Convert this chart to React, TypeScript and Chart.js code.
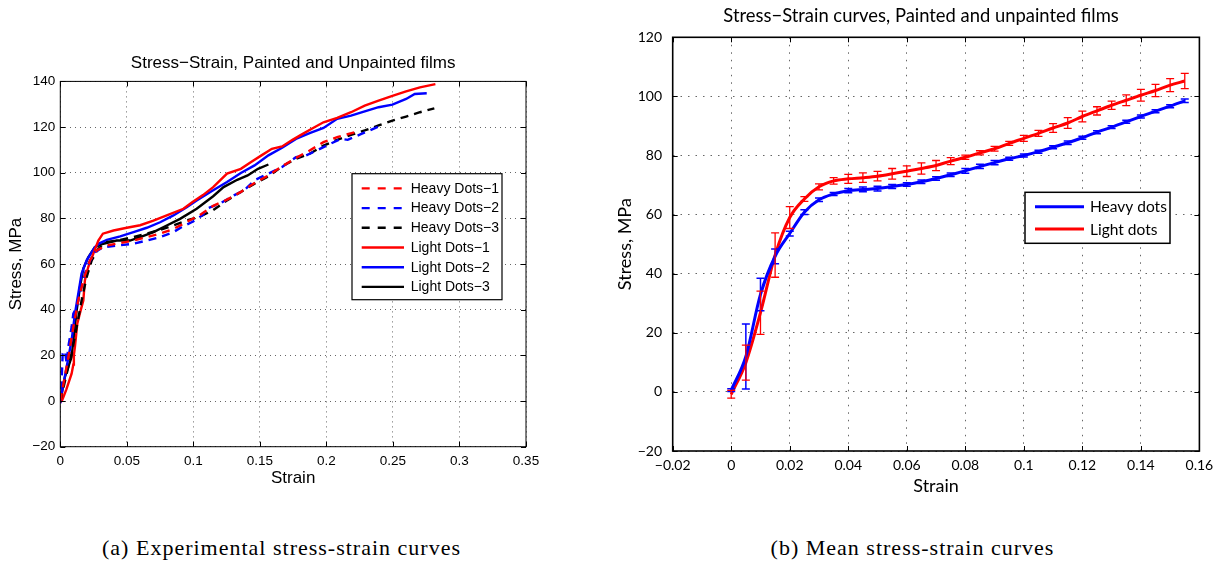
import React, { useEffect, useRef } from 'react';
import { Chart, registerables } from 'chart.js';

Chart.register(...registerables);

// ---------------- Panel (a): experimental curves ----------------
const titleA = 'Stress\u2212Strain, Painted and Unpainted films';
const xTitleA = 'Strain';
const yTitleA = 'Stress, MPa';

const strainHeavy1 = [0, 0.006, 0.0098, 0.0135, 0.0173, 0.0223, 0.0273, 0.0348, 0.0449, 0.055, 0.065, 0.075, 0.085, 0.095, 0.1046, 0.1149, 0.1253, 0.1357, 0.146, 0.1564, 0.1667, 0.1771, 0.1874, 0.1978, 0.2081, 0.221];
const stressHeavy1 = [0, 19, 32.4, 44, 52.9, 61.6, 66, 68.1, 69.2, 70.3, 71.8, 73.3, 75.4, 78.4, 81.4, 85.5, 88.2, 91.6, 95.5, 98.8, 102.8, 106.5, 109.7, 113.4, 115.6, 117.7];

const strainHeavy2 = [0, 0.001, 0.0018, 0.0035, 0.0048, 0.006, 0.0085, 0.0098, 0.0123, 0.016, 0.0198, 0.026, 0.0323, 0.0424, 0.055, 0.065, 0.075, 0.085, 0.0916, 0.0994, 0.1072, 0.11, 0.12, 0.1305, 0.1382, 0.146, 0.1564, 0.1667, 0.1771, 0.1848, 0.1926, 0.203, 0.2108, 0.216, 0.2263, 0.2392];
const stressHeavy2 = [-1, 9, 20.8, 22, 16.4, 23.7, 32.4, 38.3, 41.2, 50, 58.7, 65.2, 67.4, 68.1, 68.9, 70.3, 71.8, 74, 76.3, 78.5, 81.5, 84.3, 86.5, 90.1, 92.3, 96.7, 99.6, 102.5, 106.8, 107.6, 109.7, 112.7, 114.8, 114.4, 117, 120.2];

const strainHeavy3 = [0, 0.0048, 0.0085, 0.0123, 0.016, 0.0198, 0.0236, 0.0286, 0.0348, 0.0449, 0.055, 0.065, 0.075, 0.085, 0.095, 0.1046, 0.1149, 0.1253, 0.1357, 0.146, 0.1564, 0.1667, 0.1771, 0.1874, 0.1978, 0.2081, 0.2185, 0.2288, 0.2392, 0.2496, 0.2599, 0.2703, 0.2811];
const stressHeavy3 = [0, 12, 20.8, 32.4, 44, 54.3, 61.6, 66.7, 69.6, 70.6, 71.8, 73.3, 75, 76.9, 79.1, 80.7, 83.6, 87.9, 91.6, 95.2, 98.4, 102.8, 106.1, 108.3, 111.9, 114.4, 116.6, 118.5, 120.7, 122.8, 124.6, 126.5, 128.2];

const strainLight1 = [0.0002, 0.0015, 0.0045, 0.0085, 0.0098, 0.0102, 0.011, 0.0128, 0.0153, 0.0173, 0.0185, 0.021, 0.0248, 0.0286, 0.032, 0.04, 0.05, 0.06, 0.07, 0.08, 0.0925, 0.0994, 0.1072, 0.1149, 0.1253, 0.1357, 0.1434, 0.1512, 0.159, 0.1667, 0.1745, 0.1822, 0.19, 0.1978, 0.2081, 0.2185, 0.2288, 0.2392, 0.2496, 0.2599, 0.2703, 0.2819];
const stressLight1 = [-0.5, 0.5, 5, 12, 16, 20, 23.7, 34, 39.7, 44, 52.9, 58.7, 64.5, 70.3, 73.3, 74.7, 75.9, 77, 79, 81.3, 84.2, 87.2, 90.2, 93.7, 99.6, 101.7, 104.7, 107.6, 110.5, 111.5, 114.4, 117, 119.6, 122.1, 124, 126.5, 129.4, 131.6, 133.7, 135.6, 137.4, 138.8];

const strainLight2 = [0, 0.0048, 0.0085, 0.011, 0.0135, 0.016, 0.0198, 0.026, 0.0298, 0.035, 0.045, 0.055, 0.065, 0.075, 0.085, 0.095, 0.1025, 0.1149, 0.1253, 0.1357, 0.146, 0.1564, 0.1667, 0.1771, 0.1874, 0.1978, 0.2081, 0.2185, 0.2288, 0.2392, 0.2496, 0.2599, 0.2664, 0.2754];
const stressLight2 = [0, 15, 26.6, 38.3, 47, 55.8, 61.6, 67.4, 69.2, 70.6, 72.1, 74, 75.9, 78.3, 81.3, 84.9, 87.8, 92.3, 95.9, 99.9, 103.2, 107.6, 110.9, 114.8, 117.3, 119.6, 123.6, 125, 126.9, 128.7, 129.8, 132.3, 134.5, 134.8];

const strainLight3 = [0, 0.0035, 0.0085, 0.0123, 0.0148, 0.0173, 0.021, 0.026, 0.0323, 0.0424, 0.0524, 0.06, 0.07, 0.08, 0.09, 0.1025, 0.1149, 0.1227, 0.133, 0.1408, 0.1486, 0.1564];
const stressLight3 = [0, 10.6, 19.3, 39.7, 50, 58, 63, 67.4, 68.9, 70.3, 70.3, 71.8, 74, 76.9, 79.8, 84.2, 89.7, 93.7, 96.9, 98.8, 101.7, 103.6];

const seriesLabelsA = ['Heavy Dots\u22121', 'Heavy Dots\u22122', 'Heavy Dots\u22123', 'Light Dots\u22121', 'Light Dots\u22122', 'Light Dots\u22123'];

const xTicksA = [0, 0.05, 0.1, 0.15, 0.2, 0.25, 0.3, 0.35];
const xTickLabelsA = ['0', '0.05', '0.1', '0.15', '0.2', '0.25', '0.3', '0.35'];
const yTicksA = [-20, 0, 20, 40, 60, 80, 100, 120, 140];
const yTickLabelsA = ['\u221220', '0', '20', '40', '60', '80', '100', '120', '140'];

// ---------------- Panel (b): mean curves ----------------
const titleB = 'Stress\u2212Strain curves, Painted and unpainted films';
const xTitleB = 'Strain';
const yTitleB = 'Stress, MPa';

const strainMean = [0, 0.005, 0.01, 0.015, 0.02, 0.025, 0.03, 0.035, 0.04, 0.045, 0.05, 0.055, 0.06, 0.065, 0.07, 0.075, 0.08, 0.085, 0.09, 0.095, 0.1, 0.105, 0.11, 0.115, 0.12, 0.125, 0.13, 0.135, 0.14, 0.145, 0.15, 0.155];
const stressHeavyMean = [0.6, 12, 33, 45.9, 53.6, 60.8, 65, 67, 68.1, 68.5, 68.8, 69.5, 70.2, 71.1, 72.2, 73.5, 74.8, 76.3, 77.6, 78.9, 80, 81.3, 82.8, 84.3, 86, 87.9, 89.6, 91.4, 93.2, 95, 96.7, 98.5];
const errHeavyMean = [0.5, 11, 5.5, 2.5, 0.8, 0.8, 0.6, 0.5, 0.7, 0.8, 0.8, 0.7, 0.6, 0.6, 0.6, 0.6, 0.8, 0.7, 0.7, 0.5, 0.5, 0.5, 0.5, 0.6, 0.5, 0.5, 0.5, 0.5, 0.5, 0.5, 0.5, 0.6];
const stressLightMean = [-0.8, 9.9, 26.8, 46.3, 59.0, 65.3, 69.4, 71.4, 72.1, 72.5, 73.0, 73.8, 74.7, 75.6, 76.6, 78.1, 79.4, 80.9, 82.3, 84.1, 85.8, 87.5, 89.3, 91.0, 93.2, 95.1, 97.0, 98.7, 100.4, 102.0, 103.8, 105.2];
const errLightMean = [1.3, 5.9, 7.3, 7.5, 3.7, 0.8, 1.0, 1.1, 1.5, 1.6, 1.6, 1.8, 1.8, 1.9, 1.7, 1.2, 0.7, 0.7, 0.8, 0.7, 1.0, 1.0, 1.5, 1.8, 1.8, 1.4, 1.4, 1.8, 2.0, 2.1, 2.2, 2.6];
const seriesLabelsB = ['Heavy dots', 'Light dots'];

const xTicksB = [-0.02, 0, 0.02, 0.04, 0.06, 0.08, 0.1, 0.12, 0.14, 0.16];
const xTickLabelsB = ['\u22120.02', '0', '0.02', '0.04', '0.06', '0.08', '0.1', '0.12', '0.14', '0.16'];
const yTicksB = [-20, 0, 20, 40, 60, 80, 100, 120];
const yTickLabelsB = ['\u221220', '0', '20', '40', '60', '80', '100', '120'];

const captionA = '(a) Experimental stress-strain curves';
const captionB = '(b) Mean stress-strain curves';

// ---------------- styling ----------------
const SANS = '"Liberation Sans", Arial, Helvetica, sans-serif';
const HUM = 'Lato, "Open Sans", "Noto Sans", sans-serif';
const RED = '#ff0000';
const BLUE = '#0000ff';
const BLACK = '#000000';

function framePlugin(lineWidth: number, tickLen: number) {
  return {
    id: 'frame',
    afterDatasetsDraw(chart: any) {
      const { ctx, chartArea: a, scales } = chart;
      ctx.save();
      ctx.strokeStyle = '#000';
      ctx.lineWidth = lineWidth;
      ctx.setLineDash([]);
      ctx.strokeRect(a.left, a.top, a.right - a.left, a.bottom - a.top);
      ctx.lineWidth = 1;
      ctx.beginPath();
      scales.x.ticks.forEach((t: any) => {
        const px = Math.round(scales.x.getPixelForValue(t.value)) + 0.5;
        ctx.moveTo(px, a.bottom); ctx.lineTo(px, a.bottom - tickLen);
        ctx.moveTo(px, a.top); ctx.lineTo(px, a.top + tickLen);
      });
      scales.y.ticks.forEach((t: any) => {
        const py = Math.round(scales.y.getPixelForValue(t.value)) + 0.5;
        ctx.moveTo(a.left, py); ctx.lineTo(a.left + tickLen, py);
        ctx.moveTo(a.right, py); ctx.lineTo(a.right - tickLen, py);
      });
      ctx.stroke();
      ctx.restore();
    },
  };
}

function legendPlugin(L: any) {
  return {
    id: 'boxLegend',
    afterDraw(chart: any) {
      const { ctx, chartArea: a } = chart;
      const x0 = a.left + L.dx;
      const y0 = a.top + L.dy;
      ctx.save();
      ctx.fillStyle = '#fff';
      ctx.fillRect(x0, y0, L.w, L.h);
      ctx.strokeStyle = '#000';
      ctx.lineWidth = L.border;
      ctx.strokeRect(x0, y0, L.w, L.h);
      chart.data.datasets.forEach((ds: any, i: number) => {
        const y = y0 + L.firstRow + i * L.rowGap;
        ctx.beginPath();
        ctx.setLineDash(ds.borderDash && ds.borderDash.length ? L.dash : []);
        ctx.strokeStyle = ds.borderColor;
        ctx.lineWidth = L.lineWidth;
        ctx.moveTo(x0 + L.lineX1, y);
        ctx.lineTo(x0 + L.lineX2, y);
        ctx.stroke();
        ctx.setLineDash([]);
        ctx.fillStyle = '#000';
        ctx.font = L.font;
        ctx.textBaseline = 'middle';
        ctx.textAlign = 'left';
        ctx.fillText(ds.label, x0 + L.textX, y + 0.5);
      });
      ctx.restore();
    },
  };
}

// Title drawn above the plot, slightly off the plot's centre as in the source figure.
function shiftedTitlePlugin(text: string, font: string, dx: number, y: number) {
  return {
    id: 'shiftedTitle',
    afterDraw(chart: any) {
      const { ctx, chartArea: a } = chart;
      ctx.save();
      ctx.font = font;
      ctx.fillStyle = '#000';
      ctx.textAlign = 'center';
      ctx.textBaseline = 'middle';
      ctx.fillText(text, (a.left + a.right) / 2 + dx, y);
      ctx.restore();
    },
  };
}

function errorBarPlugin(sets: any[]) {
  return {
    id: 'errorBars',
    afterDatasetsDraw(chart: any) {
      const { ctx, scales } = chart;
      ctx.save();
      sets.forEach((s) => {
        ctx.strokeStyle = s.color;
        ctx.lineWidth = s.width;
        ctx.beginPath();
        s.x.forEach((xv: number, i: number) => {
          const px = scales.x.getPixelForValue(xv);
          const top = scales.y.getPixelForValue(s.y[i] + s.err[i]);
          const bot = scales.y.getPixelForValue(s.y[i] - s.err[i]);
          ctx.moveTo(px, top); ctx.lineTo(px, bot);
          ctx.moveTo(px - s.cap, top); ctx.lineTo(px + s.cap, top);
          ctx.moveTo(px - s.cap, bot); ctx.lineTo(px + s.cap, bot);
        });
        ctx.stroke();
      });
      ctx.restore();
    },
  };
}

function axisCfg(p: any) {
  return {
    type: 'linear',
    min: p.min,
    max: p.max,
    afterBuildTicks: (s: any) => { s.ticks = p.ticks.map((v: number) => ({ value: v })); },
    afterFit: (s: any) => { if (p.width !== undefined) s.width = p.width; if (p.height !== undefined) s.height = p.height; },
    ticks: {
      callback: (_v: any, i: number) => p.labels[i],
      color: '#000',
      font: { family: p.family, size: p.tickSize },
      padding: p.tickPad,
      maxRotation: 0,
      autoSkip: false,
    },
    grid: { color: p.gridColor, lineWidth: 1, drawTicks: false },
    border: { display: false, dash: p.dash },
    title: {
      display: true,
      text: p.title,
      color: '#000',
      font: { family: p.family, size: p.titleSize, lineHeight: 1.2 },
      padding: p.titlePad,
    },
  };
}

function configA(): any {
  const series = [
    { x: strainHeavy1, y: stressHeavy1, color: RED, dashed: true },
    { x: strainHeavy2, y: stressHeavy2, color: BLUE, dashed: true },
    { x: strainHeavy3, y: stressHeavy3, color: BLACK, dashed: true },
    { x: strainLight1, y: stressLight1, color: RED, dashed: false },
    { x: strainLight2, y: stressLight2, color: BLUE, dashed: false },
    { x: strainLight3, y: stressLight3, color: BLACK, dashed: false },
  ];
  return {
    type: 'line',
    data: {
      datasets: series.map((s, k) => ({
        label: seriesLabelsA[k],
        data: s.x.map((x, i) => ({ x, y: s.y[i] })),
        borderColor: s.color,
        backgroundColor: s.color,
        borderWidth: 2.4,
        borderDash: s.dashed ? [8, 6] : [],
        pointRadius: 0,
        tension: 0,
        fill: false,
      })),
    },
    options: {
      responsive: false,
      animation: false,
      events: [],
      layout: { padding: { left: 0, right: 74, top: 0, bottom: 3.3 } },
      plugins: {
        legend: { display: false },
        tooltip: { enabled: false },
        title: {
          display: true, text: titleA, color: '#000', fullSize: false,
          font: { family: SANS, size: 17, weight: 'normal', lineHeight: 1.2 },
          padding: { top: 53, bottom: 8 },
        },
      },
      scales: {
        x: axisCfg({ min: 0, max: 0.35, ticks: xTicksA, labels: xTickLabelsA, height: 50, family: SANS, tickSize: 13.5, tickPad: 6, gridColor: 'rgba(0,0,0,0.6)', dash: [1, 4], title: xTitleA, titleSize: 17, titlePad: { top: 0, bottom: 8 } }),
        y: axisCfg({ min: -20, max: 140, ticks: yTicksA, labels: yTickLabelsA, width: 60.3, family: SANS, tickSize: 13.5, tickPad: 5, gridColor: 'rgba(0,0,0,0.6)', dash: [1, 4], title: yTitleA, titleSize: 17, titlePad: { top: 6.5, bottom: 0 } }),
      },
    },
    plugins: [
      framePlugin(1, 5),
      legendPlugin({ dx: 291.7, dy: 92.3, w: 150, h: 126, border: 1.2, firstRow: 14.7, rowGap: 19.7, lineX1: 9.7, lineX2: 52, textX: 58.7, lineWidth: 2.4, dash: [8, 8], font: `14px ${SANS}` }),
    ],
  };
}

function configB(): any {
  return {
    type: 'line',
    data: {
      datasets: [
        { label: seriesLabelsB[0], data: strainMean.map((x, i) => ({ x, y: stressHeavyMean[i] })), borderColor: BLUE, backgroundColor: BLUE, borderWidth: 3, pointRadius: 0, cubicInterpolationMode: 'monotone', fill: false },
        { label: seriesLabelsB[1], data: strainMean.map((x, i) => ({ x, y: stressLightMean[i] })), borderColor: RED, backgroundColor: RED, borderWidth: 3, pointRadius: 0, cubicInterpolationMode: 'monotone', fill: false },
      ],
    },
    options: {
      responsive: false,
      animation: false,
      events: [],
      layout: { padding: { left: 0, right: 23.6, top: 37.3, bottom: 19 } },
      plugins: {
        legend: { display: false },
        tooltip: { enabled: false },
        title: { display: false },
      },
      scales: {
        x: axisCfg({ min: -0.02, max: 0.16, ticks: xTicksB, labels: xTickLabelsB, height: 50, family: HUM, tickSize: 14, tickPad: 6, gridColor: 'rgba(0,0,0,0.6)', dash: [1.5, 6], title: xTitleB, titleSize: 18, titlePad: { top: 0, bottom: 4.2 } }),
        y: axisCfg({ min: -20, max: 120, ticks: yTicksB, labels: yTickLabelsB, width: 72.7, family: HUM, tickSize: 14, tickPad: 10.7, gridColor: 'rgba(0,0,0,0.6)', dash: [1.5, 6], title: yTitleB, titleSize: 18, titlePad: { top: 13.9, bottom: 0 } }),
      },
    },
    plugins: [
      errorBarPlugin([
        { x: strainMean, y: stressHeavyMean, err: errHeavyMean, color: BLUE, width: 1.5, cap: 4 },
        { x: strainMean, y: stressLightMean, err: errLightMean, color: RED, width: 1.3, cap: 4 },
      ]),
      framePlugin(1.6, 5),
      legendPlugin({ dx: 352.3, dy: 155, w: 145, h: 51, border: 1.5, firstRow: 14.4, rowGap: 22.3, lineX1: 10, lineX2: 59, textX: 65, lineWidth: 3, dash: [], font: `15.5px ${HUM}` }),
      shiftedTitlePlugin(titleB, `18.4px ${HUM}`, -15, 16.5),
    ],
  };
}

function ChartBox({ left, top, width, height, make }: any) {
  const ref = useRef<HTMLCanvasElement>(null);
  useEffect(() => {
    const chart = new Chart(ref.current as HTMLCanvasElement, make());
    return () => chart.destroy();
  }, []);
  return (
    <div style={{ position: 'absolute', left, top, width, height }}>
      <canvas ref={ref} width={width} height={height} style={{ display: 'block', width, height }} />
    </div>
  );
}

const captionStyle: React.CSSProperties = {
  position: 'absolute',
  top: 535,
  fontFamily: '"Liberation Serif", "Times New Roman", serif',
  fontSize: 22,
  lineHeight: '26px',
  letterSpacing: '1px',
  color: '#000',
  whiteSpace: 'nowrap',
  transform: 'translateX(-50%)',
};

export default function App() {
  return (
    <div style={{ position: 'fixed', left: 0, top: 0, width: 1223, height: 562, background: '#fff', overflow: 'hidden' }}>
      <ChartBox left={0} top={0} width={600} height={500} make={configA} />
      <ChartBox left={600} top={0} width={623} height={520} make={configB} />
      <div style={{ ...captionStyle, left: 281.5 }}>{captionA}</div>
      <div style={{ ...captionStyle, left: 912.5 }}>{captionB}</div>
    </div>
  );
}
